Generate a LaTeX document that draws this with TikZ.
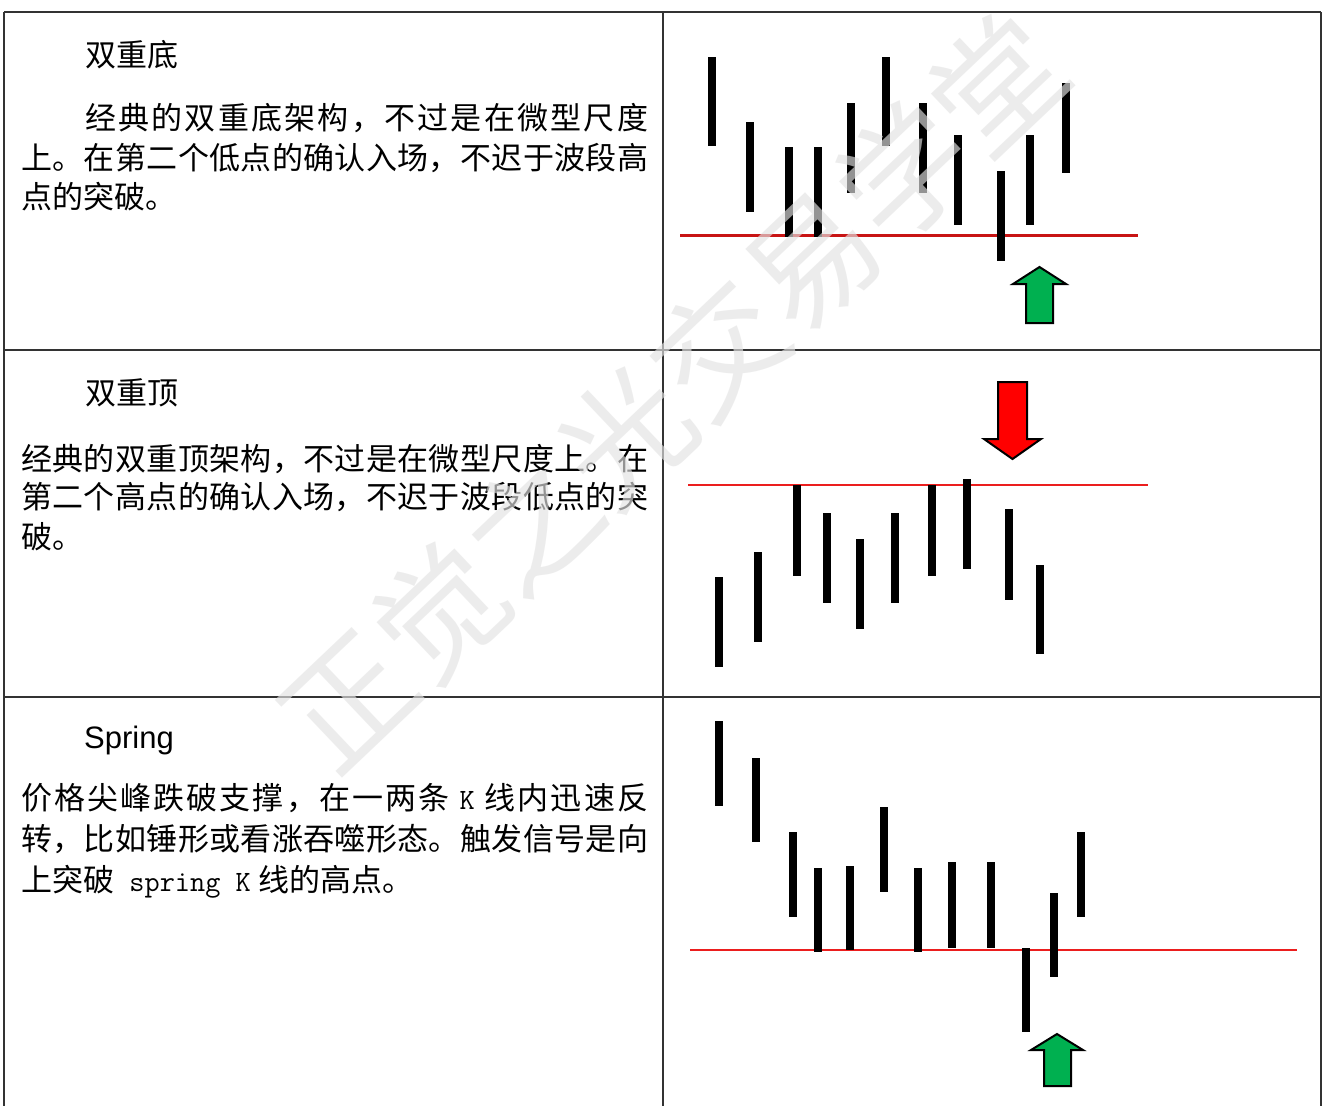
\documentclass[tikz,border=0pt]{standalone}
\usepackage{fontspec}
\setmainfont{Noto Sans CJK SC}
\setsansfont{Liberation Sans}
\newfontfamily\wmfont{Noto Sans CJK SC}
\definecolor{lineA}{RGB}{200,20,20}
\definecolor{lineB}{RGB}{235,30,30}
\definecolor{arrowG}{RGB}{0,176,80}
\definecolor{arrowR}{RGB}{255,0,0}
\def\spreadfirst#1{#1\spreadrest}
\def\spreadrest#1{\ifx\relax#1\else\hskip 0pt plus 1fil\relax #1\expandafter\spreadrest\fi}
\newcommand\spreadline[2]{\hbox to #1{\spreadfirst#2\relax}}
\newcommand\lat[1]{{\fontsize{29.5}{31}\ttfamily\selectfont #1}}
\newcommand\Kx{\mbox{\hspace{8pt}\lat{K}\hspace{8pt}}}
\begin{document}
\begin{tikzpicture}[x=1pt,y=-1pt,
  gridline/.style={line width=1.3pt, draw=black!80},
  txt/.style={anchor=west, inner sep=0pt, font=\fontsize{31}{31}\selectfont, text height=27.3pt, text depth=3.7pt},
  bar/.style={line width=8pt, draw=black},
  rline/.style={line width=2.5pt, draw=#1},
  garrow/.style={fill=arrowG, draw=black, line width=2pt, line join=miter},
  rarrow/.style={fill=arrowR, draw=black, line width=2pt, line join=miter},
  wm/.style={font=\wmfont\fontsize{128}{128}\selectfont, text=black!11, text opacity=0.65, inner sep=0pt}
]
\useasboundingbox (0,0) rectangle (1323,1106);
\fill[white] (0,0) rectangle (1323,1106);
% table
\draw[gridline] (4,12) -- (1321,12);
\draw[gridline] (4,350) -- (1321,350);
\draw[gridline] (4,697) -- (1321,697);
\draw[gridline] (4,12) -- (4,1106);
\draw[gridline] (663,12) -- (663,1106);
\draw[gridline] (1321,12) -- (1321,1106);
% row 1 text
\node[txt] (t1) at (85,55) {双重底};
\node[txt] (a1) at (85,118) {\spreadline{563pt}{经典的双重底架构，不过是在微型尺度}};
\node[txt] (a2) at (21,158) {\spreadline{627pt}{上。在第二个低点的确认入场，不迟于波段高}};
\node[txt] (a3) at (21,197) {点的突破。};
% row 2 text
\node[txt] (t2) at (85,393) {双重顶};
\node[txt] (b1) at (21,459) {\spreadline{627pt}{经典的双重顶架构，不过是在微型尺度上。在}};
\node[txt] (b2) at (21,497) {\spreadline{627pt}{第二个高点的确认入场，不迟于波段低点的突}};
\node[txt] (b3) at (21,537) {破。};
% row 3 text
\node[anchor=west, inner sep=0pt, font=\sffamily\fontsize{31}{31}\selectfont] (t3) at (84,740) {Spring};
\node[txt] (c1) at (21,798) {\spreadline{627pt}{价格尖峰跌破支撑，在一两条\Kx 线内迅速反}};
\node[txt] (c2) at (21,839) {\spreadline{627pt}{转，比如锤形或看涨吞噬形态。触发信号是向}};
\node[txt] (c3) at (21,880) {上突破\lat{\ spring\ K}\hspace{8pt}线的高点。};
% chart 1
\draw[rline=lineA] (680,235.5) -- (1138,235.5);
\foreach \x/\a/\b in {711.5/57/146, 749.5/122/212, 788.7/147/237, 818.3/147/237, 851.2/103/193, 885.8/57/146, 923.3/103/193, 957.5/135/225, 1000.5/171/261, 1030/135/225, 1066/83/173}
  \draw[bar] (\x,\a) -- (\x,\b);
\draw[garrow] (1026,323) -- (1026,284) -- (1013,284) -- (1039.5,267) -- (1066,284) -- (1053,284) -- (1053,323) -- cycle;
% chart 2
\draw[rline=lineB] (688,485) -- (1148,485);
\foreach \x/\a/\b in {719/577/667, 758.4/552/642, 797.2/485/576, 826.7/513/603, 859.6/539/629, 894.6/513/603, 932.2/485/576, 966.8/479/569, 1009/509/600, 1039.8/565/654}
  \draw[bar] (\x,\a) -- (\x,\b);
\draw[rarrow] (998,382) -- (1027,382) -- (1027,439) -- (1041,439) -- (1012.5,459) -- (984,439) -- (998,439) -- cycle;
% chart 3
\draw[rline=lineB] (690,950) -- (1297,950);
\foreach \x/\a/\b in {719.1/721/806, 755.8/758/842, 793/832/917, 817.9/868/952, 850.3/866/950, 884/807/892, 918.3/868/952, 952/862/948, 991.3/862/948, 1025.9/948/1032, 1053.7/893/977, 1080.7/832/917}
  \draw[bar] (\x,\a) -- (\x,\b);
\draw[garrow] (1044,1086) -- (1044,1050) -- (1031,1050) -- (1057,1034) -- (1083,1050) -- (1071,1050) -- (1071,1086) -- cycle;
% watermark
\node[wm, rotate=43.5] (wmark) at (672,392) {正觉之光交易学堂};
\end{tikzpicture}
\end{document}
